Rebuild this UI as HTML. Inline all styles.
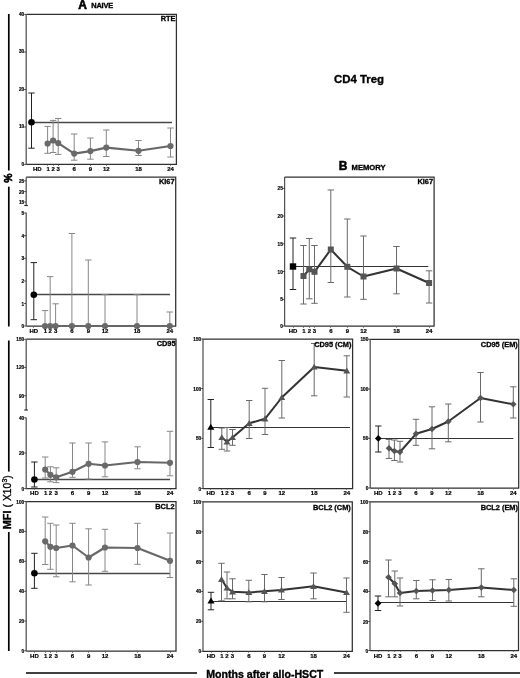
<!DOCTYPE html><html><head><meta charset="utf-8"><style>html,body{margin:0;padding:0;background:#fff;}svg{display:block}.tk{font-weight:bold;stroke:#000;stroke-width:0.2}.ti{font-weight:bold;stroke:#000;stroke-width:0.3}.hd{font-weight:bold;stroke:#000;stroke-width:0.35}</style></head><body><svg width="520" height="678" viewBox="0 0 520 678" font-family='"Liberation Sans", Arial, sans-serif' fill="#000">
<rect width="520" height="678" fill="#fff"/>
<path d="M26.2,14.4 H176.4 V164.3 H26.2" fill="none" stroke="#303030" stroke-width="1.25"/>
<line x1="26.2" y1="14.4" x2="26.2" y2="164.3" stroke="#505050" stroke-width="1.25"/>
<line x1="24.2" y1="14.4" x2="26" y2="14.4" stroke="#303030" stroke-width="0.9"/>
<text class="tk" transform="translate(24.2,15.700000000000001) scale(0.85,1)" text-anchor="end" font-size="5.6">40</text>
<line x1="24.2" y1="52" x2="26" y2="52" stroke="#303030" stroke-width="0.9"/>
<text class="tk" transform="translate(24.2,53.3) scale(0.85,1)" text-anchor="end" font-size="5.6">30</text>
<line x1="24.2" y1="89.5" x2="26" y2="89.5" stroke="#303030" stroke-width="0.9"/>
<text class="tk" transform="translate(24.2,90.8) scale(0.85,1)" text-anchor="end" font-size="5.6">20</text>
<line x1="24.2" y1="127" x2="26" y2="127" stroke="#303030" stroke-width="0.9"/>
<text class="tk" transform="translate(24.2,128.3) scale(0.85,1)" text-anchor="end" font-size="5.6">10</text>
<line x1="24.2" y1="164.4" x2="26" y2="164.4" stroke="#303030" stroke-width="0.9"/>
<text class="tk" transform="translate(24.2,165.70000000000002) scale(0.85,1)" text-anchor="end" font-size="5.6">0</text>
<line x1="31.5" y1="122.5" x2="172" y2="122.5" stroke="#484848" stroke-width="1.3"/>
<path d="M47.6,126.4 V153.3 M44.4,126.4 h6.4 M44.4,153.3 h6.4" stroke="#878787" stroke-width="1.0" fill="none"/>
<path d="M53.1,120.4 V152.5 M49.9,120.4 h6.4 M49.9,152.5 h6.4" stroke="#878787" stroke-width="1.0" fill="none"/>
<path d="M58.2,118.5 V154.4 M55.0,118.5 h6.4 M55.0,154.4 h6.4" stroke="#878787" stroke-width="1.0" fill="none"/>
<path d="M74.2,134 V160.2 M71.0,134 h6.4 M71.0,160.2 h6.4" stroke="#878787" stroke-width="1.0" fill="none"/>
<path d="M90.4,138 V159.2 M87.2,138 h6.4 M87.2,159.2 h6.4" stroke="#878787" stroke-width="1.0" fill="none"/>
<path d="M106.3,130 V156.5 M103.1,130 h6.4 M103.1,156.5 h6.4" stroke="#878787" stroke-width="1.0" fill="none"/>
<path d="M138.5,140.5 V155.5 M135.3,140.5 h6.4 M135.3,155.5 h6.4" stroke="#878787" stroke-width="1.0" fill="none"/>
<path d="M170.5,128 V157 M167.3,128 h6.4 M167.3,157 h6.4" stroke="#878787" stroke-width="1.0" fill="none"/>
<path d="M31.5,93 V148.2 M28.3,93 h6.4 M28.3,148.2 h6.4" stroke="#222" stroke-width="1.0" fill="none"/>
<path d="M47.6,143.5 L53.1,140.5 L58.2,143.1 L74.2,153.6 L90.4,151.1 L106.3,147.6 L138.5,150.8 L170.5,146" stroke="#676767" stroke-width="2.1" fill="none" stroke-linejoin="round"/>
<circle cx="47.6" cy="143.5" r="3.1" fill="#6a6a6a"/>
<circle cx="53.1" cy="140.5" r="3.1" fill="#6a6a6a"/>
<circle cx="58.2" cy="143.1" r="3.1" fill="#6a6a6a"/>
<circle cx="74.2" cy="153.6" r="3.1" fill="#6a6a6a"/>
<circle cx="90.4" cy="151.1" r="3.1" fill="#6a6a6a"/>
<circle cx="106.3" cy="147.6" r="3.1" fill="#6a6a6a"/>
<circle cx="138.5" cy="150.8" r="3.1" fill="#6a6a6a"/>
<circle cx="170.5" cy="146" r="3.1" fill="#6a6a6a"/>
<circle cx="31.5" cy="122.3" r="3.3" fill="#000"/>
<text class="tk" transform="translate(37.3,170.6) scale(1.0,1)" text-anchor="middle" font-size="6.0">HD</text>
<line x1="47.5" y1="164.5" x2="47.5" y2="166.0" stroke="#555" stroke-width="0.7"/>
<text class="tk" transform="translate(48.1,170.6) scale(1.0,1)" text-anchor="middle" font-size="6.0">1</text>
<line x1="53.5" y1="164.5" x2="53.5" y2="166.0" stroke="#555" stroke-width="0.7"/>
<text class="tk" transform="translate(53.1,170.6) scale(1.0,1)" text-anchor="middle" font-size="6.0">2</text>
<line x1="58.5" y1="164.5" x2="58.5" y2="166.0" stroke="#555" stroke-width="0.7"/>
<text class="tk" transform="translate(58.2,170.6) scale(1.0,1)" text-anchor="middle" font-size="6.0">3</text>
<line x1="74.5" y1="164.5" x2="74.5" y2="166.0" stroke="#555" stroke-width="0.7"/>
<text class="tk" transform="translate(74.2,170.6) scale(1.0,1)" text-anchor="middle" font-size="6.0">6</text>
<line x1="90.5" y1="164.5" x2="90.5" y2="166.0" stroke="#555" stroke-width="0.7"/>
<text class="tk" transform="translate(90.4,170.6) scale(1.0,1)" text-anchor="middle" font-size="6.0">9</text>
<line x1="106.5" y1="164.5" x2="106.5" y2="166.0" stroke="#555" stroke-width="0.7"/>
<text class="tk" transform="translate(106.3,170.6) scale(1.0,1)" text-anchor="middle" font-size="6.0">12</text>
<line x1="138.5" y1="164.5" x2="138.5" y2="166.0" stroke="#555" stroke-width="0.7"/>
<text class="tk" transform="translate(138.5,170.6) scale(1.0,1)" text-anchor="middle" font-size="6.0">18</text>
<line x1="170.5" y1="164.5" x2="170.5" y2="166.0" stroke="#555" stroke-width="0.7"/>
<text class="tk" transform="translate(170.5,170.6) scale(1.0,1)" text-anchor="middle" font-size="6.0">24</text>
<text class="ti" x="175.5" y="21" text-anchor="end" font-size="7.4">RTE</text>
<path d="M26.2,177.2 H175.7 V326 H26.2" fill="none" stroke="#303030" stroke-width="1.25"/>
<line x1="26.2" y1="177.2" x2="26.2" y2="205.5" stroke="#505050" stroke-width="1.25"/>
<line x1="26.2" y1="212.5" x2="26.2" y2="326" stroke="#505050" stroke-width="1.25"/>
<line x1="24.3" y1="205.5" x2="27.9" y2="205.5" stroke="#303030" stroke-width="1.2"/>
<line x1="24.2" y1="180.8" x2="26" y2="180.8" stroke="#303030" stroke-width="0.9"/>
<text class="tk" transform="translate(24.2,182.8) scale(0.85,1)" text-anchor="end" font-size="5.6">25</text>
<line x1="24.2" y1="191.6" x2="26" y2="191.6" stroke="#303030" stroke-width="0.9"/>
<text class="tk" transform="translate(24.2,193.6) scale(0.85,1)" text-anchor="end" font-size="5.6">20</text>
<line x1="24.2" y1="202" x2="26" y2="202" stroke="#303030" stroke-width="0.9"/>
<text class="tk" transform="translate(24.2,204.0) scale(0.85,1)" text-anchor="end" font-size="5.6">15</text>
<line x1="24.2" y1="213" x2="26" y2="213" stroke="#303030" stroke-width="0.9"/>
<text class="tk" transform="translate(24.2,215.0) scale(0.85,1)" text-anchor="end" font-size="5.6">5</text>
<line x1="24.2" y1="235.5" x2="26" y2="235.5" stroke="#303030" stroke-width="0.9"/>
<text class="tk" transform="translate(24.2,237.5) scale(0.85,1)" text-anchor="end" font-size="5.6">4</text>
<line x1="24.2" y1="258.3" x2="26" y2="258.3" stroke="#303030" stroke-width="0.9"/>
<text class="tk" transform="translate(24.2,260.3) scale(0.85,1)" text-anchor="end" font-size="5.6">3</text>
<line x1="24.2" y1="281" x2="26" y2="281" stroke="#303030" stroke-width="0.9"/>
<text class="tk" transform="translate(24.2,283.0) scale(0.85,1)" text-anchor="end" font-size="5.6">2</text>
<line x1="24.2" y1="303.5" x2="26" y2="303.5" stroke="#303030" stroke-width="0.9"/>
<text class="tk" transform="translate(24.2,305.5) scale(0.85,1)" text-anchor="end" font-size="5.6">1</text>
<line x1="24.2" y1="326" x2="26" y2="326" stroke="#303030" stroke-width="0.9"/>
<text class="tk" transform="translate(24.2,328.0) scale(0.85,1)" text-anchor="end" font-size="5.6">0</text>
<line x1="33.8" y1="294.5" x2="170" y2="294.5" stroke="#484848" stroke-width="1.3"/>
<path d="M45,310.6 V326 M41.8,310.6 h6.4 M41.8,326 h6.4" stroke="#878787" stroke-width="1.0" fill="none"/>
<path d="M50.2,276.6 V326 M47.0,276.6 h6.4 M47.0,326 h6.4" stroke="#878787" stroke-width="1.0" fill="none"/>
<path d="M55.6,303.8 V326 M52.4,303.8 h6.4 M52.4,326 h6.4" stroke="#878787" stroke-width="1.0" fill="none"/>
<path d="M71.9,233.5 V326 M68.7,233.5 h6.4 M68.7,326 h6.4" stroke="#878787" stroke-width="1.0" fill="none"/>
<path d="M88.3,260 V326 M85.1,260 h6.4 M85.1,326 h6.4" stroke="#878787" stroke-width="1.0" fill="none"/>
<path d="M105,294.7 V326 M101.8,294.7 h6.4 M101.8,326 h6.4" stroke="#878787" stroke-width="1.0" fill="none"/>
<path d="M137,294.7 V326 M133.8,294.7 h6.4 M133.8,326 h6.4" stroke="#878787" stroke-width="1.0" fill="none"/>
<path d="M169.8,312 V326 M166.60000000000002,312 h6.4 M166.60000000000002,326 h6.4" stroke="#878787" stroke-width="1.0" fill="none"/>
<path d="M33.8,262.6 V319.7 M30.599999999999998,262.6 h6.4 M30.599999999999998,319.7 h6.4" stroke="#222" stroke-width="1.0" fill="none"/>
<path d="M45,326 L50.2,326 L55.6,326 L71.9,326 L88.3,326 L105,326 L137,326 L169.8,326" stroke="#676767" stroke-width="2.1" fill="none" stroke-linejoin="round"/>
<circle cx="45" cy="326" r="3.1" fill="#6a6a6a"/>
<circle cx="50.2" cy="326" r="3.1" fill="#6a6a6a"/>
<circle cx="55.6" cy="326" r="3.1" fill="#6a6a6a"/>
<circle cx="71.9" cy="326" r="3.1" fill="#6a6a6a"/>
<circle cx="88.3" cy="326" r="3.1" fill="#6a6a6a"/>
<circle cx="105" cy="326" r="3.1" fill="#6a6a6a"/>
<circle cx="137" cy="326" r="3.1" fill="#6a6a6a"/>
<circle cx="169.8" cy="326" r="3.1" fill="#6a6a6a"/>
<circle cx="33.8" cy="294.7" r="3.3" fill="#000"/>
<line x1="33.5" y1="326.5" x2="33.5" y2="328.0" stroke="#555" stroke-width="0.7"/>
<text class="tk" transform="translate(33.8,332.59999999999997) scale(1.0,1)" text-anchor="middle" font-size="6.0">HD</text>
<line x1="45.5" y1="326.5" x2="45.5" y2="328.0" stroke="#555" stroke-width="0.7"/>
<text class="tk" transform="translate(45.5,332.59999999999997) scale(1.0,1)" text-anchor="middle" font-size="6.0">1</text>
<line x1="50.5" y1="326.5" x2="50.5" y2="328.0" stroke="#555" stroke-width="0.7"/>
<text class="tk" transform="translate(50.2,332.59999999999997) scale(1.0,1)" text-anchor="middle" font-size="6.0">2</text>
<line x1="55.5" y1="326.5" x2="55.5" y2="328.0" stroke="#555" stroke-width="0.7"/>
<text class="tk" transform="translate(55.6,332.59999999999997) scale(1.0,1)" text-anchor="middle" font-size="6.0">3</text>
<line x1="71.5" y1="326.5" x2="71.5" y2="328.0" stroke="#555" stroke-width="0.7"/>
<text class="tk" transform="translate(71.9,332.59999999999997) scale(1.0,1)" text-anchor="middle" font-size="6.0">6</text>
<line x1="88.5" y1="326.5" x2="88.5" y2="328.0" stroke="#555" stroke-width="0.7"/>
<text class="tk" transform="translate(88.3,332.59999999999997) scale(1.0,1)" text-anchor="middle" font-size="6.0">9</text>
<line x1="105.5" y1="326.5" x2="105.5" y2="328.0" stroke="#555" stroke-width="0.7"/>
<text class="tk" transform="translate(105,332.59999999999997) scale(1.0,1)" text-anchor="middle" font-size="6.0">12</text>
<line x1="137.5" y1="326.5" x2="137.5" y2="328.0" stroke="#555" stroke-width="0.7"/>
<text class="tk" transform="translate(137,332.59999999999997) scale(1.0,1)" text-anchor="middle" font-size="6.0">18</text>
<line x1="169.5" y1="326.5" x2="169.5" y2="328.0" stroke="#555" stroke-width="0.7"/>
<text class="tk" transform="translate(169.8,332.59999999999997) scale(1.0,1)" text-anchor="middle" font-size="6.0">24</text>
<text class="ti" x="174.5" y="184" text-anchor="end" font-size="7.4">Ki67</text>
<path d="M284.6,177 H434.1 V326 H284.6" fill="none" stroke="#303030" stroke-width="1.25"/>
<line x1="284.6" y1="177" x2="284.6" y2="326" stroke="#505050" stroke-width="1.25"/>
<line x1="282.8" y1="188.3" x2="284.6" y2="188.3" stroke="#303030" stroke-width="0.9"/>
<text class="tk" transform="translate(282.8,190.3) scale(0.85,1)" text-anchor="end" font-size="5.6">25</text>
<line x1="282.8" y1="216" x2="284.6" y2="216" stroke="#303030" stroke-width="0.9"/>
<text class="tk" transform="translate(282.8,218.0) scale(0.85,1)" text-anchor="end" font-size="5.6">20</text>
<line x1="282.8" y1="243.8" x2="284.6" y2="243.8" stroke="#303030" stroke-width="0.9"/>
<text class="tk" transform="translate(282.8,245.8) scale(0.85,1)" text-anchor="end" font-size="5.6">15</text>
<line x1="282.8" y1="271.5" x2="284.6" y2="271.5" stroke="#303030" stroke-width="0.9"/>
<text class="tk" transform="translate(282.8,273.5) scale(0.85,1)" text-anchor="end" font-size="5.6">10</text>
<line x1="282.8" y1="299.3" x2="284.6" y2="299.3" stroke="#303030" stroke-width="0.9"/>
<text class="tk" transform="translate(282.8,301.3) scale(0.85,1)" text-anchor="end" font-size="5.6">5</text>
<line x1="282.8" y1="326" x2="284.6" y2="326" stroke="#303030" stroke-width="0.9"/>
<text class="tk" transform="translate(282.8,328.0) scale(0.85,1)" text-anchor="end" font-size="5.6">0</text>
<line x1="293" y1="266.5" x2="428.3" y2="266.5" stroke="#333" stroke-width="1.2"/>
<path d="M303.5,245.5 V304 M300.3,245.5 h6.4 M300.3,304 h6.4" stroke="#6a6a6a" stroke-width="1.0" fill="none"/>
<path d="M309.3,238.5 V298.8 M306.1,238.5 h6.4 M306.1,298.8 h6.4" stroke="#6a6a6a" stroke-width="1.0" fill="none"/>
<path d="M314.5,245.5 V303.3 M311.3,245.5 h6.4 M311.3,303.3 h6.4" stroke="#6a6a6a" stroke-width="1.0" fill="none"/>
<path d="M330.8,190 V282.5 M327.6,190 h6.4 M327.6,282.5 h6.4" stroke="#6a6a6a" stroke-width="1.0" fill="none"/>
<path d="M347.3,219 V297 M344.1,219 h6.4 M344.1,297 h6.4" stroke="#6a6a6a" stroke-width="1.0" fill="none"/>
<path d="M363.5,236 V299.3 M360.3,236 h6.4 M360.3,299.3 h6.4" stroke="#6a6a6a" stroke-width="1.0" fill="none"/>
<path d="M396.5,246.5 V293.8 M393.3,246.5 h6.4 M393.3,293.8 h6.4" stroke="#6a6a6a" stroke-width="1.0" fill="none"/>
<path d="M429.1,270.8 V303 M425.90000000000003,270.8 h6.4 M425.90000000000003,303 h6.4" stroke="#6a6a6a" stroke-width="1.0" fill="none"/>
<path d="M293,238 V289.5 M289.8,238 h6.4 M289.8,289.5 h6.4" stroke="#222" stroke-width="1.0" fill="none"/>
<path d="M303.5,276 L309.3,269.3 L314.5,271.8 L330.8,249.5 L347.3,266.8 L363.5,276.5 L396.5,268.5 L429.1,283" stroke="#333" stroke-width="2.0" fill="none" stroke-linejoin="round"/>
<rect x="300.5" y="273.0" width="6.0" height="6.0" fill="#555"/>
<rect x="306.3" y="266.3" width="6.0" height="6.0" fill="#555"/>
<rect x="311.5" y="268.8" width="6.0" height="6.0" fill="#555"/>
<rect x="327.8" y="246.5" width="6.0" height="6.0" fill="#555"/>
<rect x="344.3" y="263.8" width="6.0" height="6.0" fill="#555"/>
<rect x="360.5" y="273.5" width="6.0" height="6.0" fill="#555"/>
<rect x="393.5" y="265.5" width="6.0" height="6.0" fill="#555"/>
<rect x="426.1" y="280.0" width="6.0" height="6.0" fill="#555"/>
<rect x="289.8" y="263.3" width="6.4" height="6.4" fill="#000"/>
<line x1="293.5" y1="326.5" x2="293.5" y2="328.0" stroke="#555" stroke-width="0.7"/>
<text class="tk" transform="translate(293,332.5) scale(1.0,1)" text-anchor="middle" font-size="6.0">HD</text>
<line x1="303.5" y1="326.5" x2="303.5" y2="328.0" stroke="#555" stroke-width="0.7"/>
<text class="tk" transform="translate(304.0,332.5) scale(1.0,1)" text-anchor="middle" font-size="6.0">1</text>
<line x1="309.5" y1="326.5" x2="309.5" y2="328.0" stroke="#555" stroke-width="0.7"/>
<text class="tk" transform="translate(309.3,332.5) scale(1.0,1)" text-anchor="middle" font-size="6.0">2</text>
<line x1="314.5" y1="326.5" x2="314.5" y2="328.0" stroke="#555" stroke-width="0.7"/>
<text class="tk" transform="translate(314.5,332.5) scale(1.0,1)" text-anchor="middle" font-size="6.0">3</text>
<line x1="330.5" y1="326.5" x2="330.5" y2="328.0" stroke="#555" stroke-width="0.7"/>
<text class="tk" transform="translate(330.8,332.5) scale(1.0,1)" text-anchor="middle" font-size="6.0">6</text>
<line x1="347.5" y1="326.5" x2="347.5" y2="328.0" stroke="#555" stroke-width="0.7"/>
<text class="tk" transform="translate(347.3,332.5) scale(1.0,1)" text-anchor="middle" font-size="6.0">9</text>
<line x1="363.5" y1="326.5" x2="363.5" y2="328.0" stroke="#555" stroke-width="0.7"/>
<text class="tk" transform="translate(363.5,332.5) scale(1.0,1)" text-anchor="middle" font-size="6.0">12</text>
<line x1="396.5" y1="326.5" x2="396.5" y2="328.0" stroke="#555" stroke-width="0.7"/>
<text class="tk" transform="translate(396.5,332.5) scale(1.0,1)" text-anchor="middle" font-size="6.0">18</text>
<line x1="429.5" y1="326.5" x2="429.5" y2="328.0" stroke="#555" stroke-width="0.7"/>
<text class="tk" transform="translate(429.1,332.5) scale(1.0,1)" text-anchor="middle" font-size="6.0">24</text>
<text class="ti" x="433" y="184" text-anchor="end" font-size="7.4">Ki67</text>
<path d="M26.2,339.2 H176.0 V488.5 H26.2" fill="none" stroke="#303030" stroke-width="1.25"/>
<line x1="26.2" y1="339.2" x2="26.2" y2="410" stroke="#505050" stroke-width="1.25"/>
<line x1="26.2" y1="417.5" x2="26.2" y2="488.5" stroke="#505050" stroke-width="1.25"/>
<line x1="24.3" y1="410" x2="27.9" y2="410" stroke="#303030" stroke-width="1.2"/>
<line x1="24.2" y1="339.3" x2="26" y2="339.3" stroke="#303030" stroke-width="0.9"/>
<text class="tk" transform="translate(24.2,341.3) scale(0.85,1)" text-anchor="end" font-size="5.6">150</text>
<line x1="24.2" y1="367.4" x2="26" y2="367.4" stroke="#303030" stroke-width="0.9"/>
<text class="tk" transform="translate(24.2,369.4) scale(0.85,1)" text-anchor="end" font-size="5.6">120</text>
<line x1="24.2" y1="395.7" x2="26" y2="395.7" stroke="#303030" stroke-width="0.9"/>
<text class="tk" transform="translate(24.2,397.7) scale(0.85,1)" text-anchor="end" font-size="5.6">90</text>
<line x1="24.2" y1="417.8" x2="26" y2="417.8" stroke="#303030" stroke-width="0.9"/>
<text class="tk" transform="translate(24.2,419.8) scale(0.85,1)" text-anchor="end" font-size="5.6">40</text>
<line x1="24.2" y1="453" x2="26" y2="453" stroke="#303030" stroke-width="0.9"/>
<text class="tk" transform="translate(24.2,455.0) scale(0.85,1)" text-anchor="end" font-size="5.6">20</text>
<line x1="24.2" y1="488.6" x2="26" y2="488.6" stroke="#303030" stroke-width="0.9"/>
<text class="tk" transform="translate(24.2,490.6) scale(0.85,1)" text-anchor="end" font-size="5.6">0</text>
<line x1="34.4" y1="479.5" x2="170" y2="479.5" stroke="#484848" stroke-width="1.3"/>
<path d="M45.2,457 V478 M42.0,457 h6.4 M42.0,478 h6.4" stroke="#878787" stroke-width="1.0" fill="none"/>
<path d="M50.4,466.8 V481.8 M47.199999999999996,466.8 h6.4 M47.199999999999996,481.8 h6.4" stroke="#878787" stroke-width="1.0" fill="none"/>
<path d="M56.2,467.8 V482.6 M53.0,467.8 h6.4 M53.0,482.6 h6.4" stroke="#878787" stroke-width="1.0" fill="none"/>
<path d="M72.5,443 V477.3 M69.3,443 h6.4 M69.3,477.3 h6.4" stroke="#878787" stroke-width="1.0" fill="none"/>
<path d="M88.6,443 V479 M85.39999999999999,443 h6.4 M85.39999999999999,479 h6.4" stroke="#878787" stroke-width="1.0" fill="none"/>
<path d="M105,441.9 V476.8 M101.8,441.9 h6.4 M101.8,476.8 h6.4" stroke="#878787" stroke-width="1.0" fill="none"/>
<path d="M137.5,446.8 V468.8 M134.3,446.8 h6.4 M134.3,468.8 h6.4" stroke="#878787" stroke-width="1.0" fill="none"/>
<path d="M170,431.3 V475.8 M166.8,431.3 h6.4 M166.8,475.8 h6.4" stroke="#878787" stroke-width="1.0" fill="none"/>
<path d="M34.4,462 V487 M31.2,462 h6.4 M31.2,487 h6.4" stroke="#222" stroke-width="1.0" fill="none"/>
<path d="M45.2,469.5 L50.4,474.8 L56.2,477.3 L72.5,471.8 L88.6,463.8 L105,465.5 L137.5,462 L170,462.8" stroke="#676767" stroke-width="2.1" fill="none" stroke-linejoin="round"/>
<circle cx="45.2" cy="469.5" r="3.1" fill="#6a6a6a"/>
<circle cx="50.4" cy="474.8" r="3.1" fill="#6a6a6a"/>
<circle cx="56.2" cy="477.3" r="3.1" fill="#6a6a6a"/>
<circle cx="72.5" cy="471.8" r="3.1" fill="#6a6a6a"/>
<circle cx="88.6" cy="463.8" r="3.1" fill="#6a6a6a"/>
<circle cx="105" cy="465.5" r="3.1" fill="#6a6a6a"/>
<circle cx="137.5" cy="462" r="3.1" fill="#6a6a6a"/>
<circle cx="170" cy="462.8" r="3.1" fill="#6a6a6a"/>
<circle cx="34.4" cy="479.5" r="3.3" fill="#000"/>
<line x1="34.5" y1="488.5" x2="34.5" y2="490.0" stroke="#555" stroke-width="0.7"/>
<text class="tk" transform="translate(34.4,494.7) scale(1.0,1)" text-anchor="middle" font-size="6.0">HD</text>
<line x1="45.5" y1="488.5" x2="45.5" y2="490.0" stroke="#555" stroke-width="0.7"/>
<text class="tk" transform="translate(45.7,494.7) scale(1.0,1)" text-anchor="middle" font-size="6.0">1</text>
<line x1="50.5" y1="488.5" x2="50.5" y2="490.0" stroke="#555" stroke-width="0.7"/>
<text class="tk" transform="translate(50.4,494.7) scale(1.0,1)" text-anchor="middle" font-size="6.0">2</text>
<line x1="56.5" y1="488.5" x2="56.5" y2="490.0" stroke="#555" stroke-width="0.7"/>
<text class="tk" transform="translate(56.2,494.7) scale(1.0,1)" text-anchor="middle" font-size="6.0">3</text>
<line x1="72.5" y1="488.5" x2="72.5" y2="490.0" stroke="#555" stroke-width="0.7"/>
<text class="tk" transform="translate(72.5,494.7) scale(1.0,1)" text-anchor="middle" font-size="6.0">6</text>
<line x1="88.5" y1="488.5" x2="88.5" y2="490.0" stroke="#555" stroke-width="0.7"/>
<text class="tk" transform="translate(88.6,494.7) scale(1.0,1)" text-anchor="middle" font-size="6.0">9</text>
<line x1="105.5" y1="488.5" x2="105.5" y2="490.0" stroke="#555" stroke-width="0.7"/>
<text class="tk" transform="translate(105,494.7) scale(1.0,1)" text-anchor="middle" font-size="6.0">12</text>
<line x1="137.5" y1="488.5" x2="137.5" y2="490.0" stroke="#555" stroke-width="0.7"/>
<text class="tk" transform="translate(137.5,494.7) scale(1.0,1)" text-anchor="middle" font-size="6.0">18</text>
<line x1="170.5" y1="488.5" x2="170.5" y2="490.0" stroke="#555" stroke-width="0.7"/>
<text class="tk" transform="translate(170,494.7) scale(1.0,1)" text-anchor="middle" font-size="6.0">24</text>
<text class="ti" x="175.6" y="345.7" text-anchor="end" font-size="7.4">CD95</text>
<path d="M203,339 H352.6 V488.5 H203" fill="none" stroke="#303030" stroke-width="1.25"/>
<line x1="203" y1="339" x2="203" y2="488.5" stroke="#505050" stroke-width="1.25"/>
<line x1="201.2" y1="339" x2="203" y2="339" stroke="#303030" stroke-width="0.9"/>
<text class="tk" transform="translate(201.2,341.0) scale(0.85,1)" text-anchor="end" font-size="5.6">150</text>
<line x1="201.2" y1="388.5" x2="203" y2="388.5" stroke="#303030" stroke-width="0.9"/>
<text class="tk" transform="translate(201.2,390.5) scale(0.85,1)" text-anchor="end" font-size="5.6">100</text>
<line x1="201.2" y1="438.3" x2="203" y2="438.3" stroke="#303030" stroke-width="0.9"/>
<text class="tk" transform="translate(201.2,440.3) scale(0.85,1)" text-anchor="end" font-size="5.6">50</text>
<line x1="201.2" y1="488.5" x2="203" y2="488.5" stroke="#303030" stroke-width="0.9"/>
<text class="tk" transform="translate(201.2,490.5) scale(0.85,1)" text-anchor="end" font-size="5.6">0</text>
<line x1="210.8" y1="427.5" x2="350" y2="427.5" stroke="#333" stroke-width="1.2"/>
<path d="M221.8,428 V449.3 M218.60000000000002,428 h6.4 M218.60000000000002,449.3 h6.4" stroke="#6a6a6a" stroke-width="1.0" fill="none"/>
<path d="M227,427.5 V451 M223.8,427.5 h6.4 M223.8,451 h6.4" stroke="#6a6a6a" stroke-width="1.0" fill="none"/>
<path d="M232.5,429.5 V445.3 M229.3,429.5 h6.4 M229.3,445.3 h6.4" stroke="#6a6a6a" stroke-width="1.0" fill="none"/>
<path d="M249.2,400.5 V438.5 M246.0,400.5 h6.4 M246.0,438.5 h6.4" stroke="#6a6a6a" stroke-width="1.0" fill="none"/>
<path d="M265,388.3 V434.5 M261.8,388.3 h6.4 M261.8,434.5 h6.4" stroke="#6a6a6a" stroke-width="1.0" fill="none"/>
<path d="M281.8,360.5 V418 M278.6,360.5 h6.4 M278.6,418 h6.4" stroke="#6a6a6a" stroke-width="1.0" fill="none"/>
<path d="M314.2,343.5 V395.8 M311.0,343.5 h6.4 M311.0,395.8 h6.4" stroke="#6a6a6a" stroke-width="1.0" fill="none"/>
<path d="M346.8,355.8 V397 M343.6,355.8 h6.4 M343.6,397 h6.4" stroke="#6a6a6a" stroke-width="1.0" fill="none"/>
<path d="M210.8,399.5 V447.5 M207.60000000000002,399.5 h6.4 M207.60000000000002,447.5 h6.4" stroke="#222" stroke-width="1.0" fill="none"/>
<path d="M221.8,437.5 L227,441.8 L232.5,437.5 L249.2,423.3 L265,418.8 L281.8,397.5 L314.2,367 L346.8,370.8" stroke="#333" stroke-width="2.0" fill="none" stroke-linejoin="round"/>
<path d="M221.8,434.32 L225.27,440.10 L218.34,440.10 Z" fill="#555"/>
<path d="M227,438.62 L230.47,444.40 L223.53,444.40 Z" fill="#555"/>
<path d="M232.5,434.32 L235.97,440.10 L229.03,440.10 Z" fill="#555"/>
<path d="M249.2,420.12 L252.66,425.90 L245.73,425.90 Z" fill="#555"/>
<path d="M265,415.62 L268.46,421.40 L261.54,421.40 Z" fill="#555"/>
<path d="M281.8,394.32 L285.26,400.10 L278.34,400.10 Z" fill="#555"/>
<path d="M314.2,363.82 L317.66,369.60 L310.74,369.60 Z" fill="#555"/>
<path d="M346.8,367.62 L350.26,373.40 L343.34,373.40 Z" fill="#555"/>
<path d="M210.8,423.73 L214.37,429.68 L207.23,429.68 Z" fill="#000"/>
<line x1="210.5" y1="488.5" x2="210.5" y2="490.0" stroke="#555" stroke-width="0.7"/>
<text class="tk" transform="translate(210.8,494.7) scale(1.0,1)" text-anchor="middle" font-size="6.0">HD</text>
<line x1="221.5" y1="488.5" x2="221.5" y2="490.0" stroke="#555" stroke-width="0.7"/>
<text class="tk" transform="translate(222.3,494.7) scale(1.0,1)" text-anchor="middle" font-size="6.0">1</text>
<line x1="227.5" y1="488.5" x2="227.5" y2="490.0" stroke="#555" stroke-width="0.7"/>
<text class="tk" transform="translate(227,494.7) scale(1.0,1)" text-anchor="middle" font-size="6.0">2</text>
<line x1="232.5" y1="488.5" x2="232.5" y2="490.0" stroke="#555" stroke-width="0.7"/>
<text class="tk" transform="translate(232.5,494.7) scale(1.0,1)" text-anchor="middle" font-size="6.0">3</text>
<line x1="249.5" y1="488.5" x2="249.5" y2="490.0" stroke="#555" stroke-width="0.7"/>
<text class="tk" transform="translate(249.2,494.7) scale(1.0,1)" text-anchor="middle" font-size="6.0">6</text>
<line x1="265.5" y1="488.5" x2="265.5" y2="490.0" stroke="#555" stroke-width="0.7"/>
<text class="tk" transform="translate(265,494.7) scale(1.0,1)" text-anchor="middle" font-size="6.0">9</text>
<line x1="281.5" y1="488.5" x2="281.5" y2="490.0" stroke="#555" stroke-width="0.7"/>
<text class="tk" transform="translate(281.8,494.7) scale(1.0,1)" text-anchor="middle" font-size="6.0">12</text>
<line x1="314.5" y1="488.5" x2="314.5" y2="490.0" stroke="#555" stroke-width="0.7"/>
<text class="tk" transform="translate(314.2,494.7) scale(1.0,1)" text-anchor="middle" font-size="6.0">18</text>
<line x1="346.5" y1="488.5" x2="346.5" y2="490.0" stroke="#555" stroke-width="0.7"/>
<text class="tk" transform="translate(346.8,494.7) scale(1.0,1)" text-anchor="middle" font-size="6.0">24</text>
<text class="ti" x="351.5" y="346.5" text-anchor="end" font-size="7.4">CD95 (CM)</text>
<path d="M370.2,339.3 H518.7 V488 H370.2" fill="none" stroke="#303030" stroke-width="1.25"/>
<line x1="370.2" y1="339.3" x2="370.2" y2="488" stroke="#505050" stroke-width="1.25"/>
<line x1="368.4" y1="339.3" x2="370.2" y2="339.3" stroke="#303030" stroke-width="0.9"/>
<text class="tk" transform="translate(368.4,341.3) scale(0.85,1)" text-anchor="end" font-size="5.6">150</text>
<line x1="368.4" y1="389" x2="370.2" y2="389" stroke="#303030" stroke-width="0.9"/>
<text class="tk" transform="translate(368.4,391.0) scale(0.85,1)" text-anchor="end" font-size="5.6">100</text>
<line x1="368.4" y1="438.3" x2="370.2" y2="438.3" stroke="#303030" stroke-width="0.9"/>
<text class="tk" transform="translate(368.4,440.3) scale(0.85,1)" text-anchor="end" font-size="5.6">50</text>
<line x1="368.4" y1="488" x2="370.2" y2="488" stroke="#303030" stroke-width="0.9"/>
<text class="tk" transform="translate(368.4,490.0) scale(0.85,1)" text-anchor="end" font-size="5.6">0</text>
<line x1="378.3" y1="438.5" x2="513.3" y2="438.5" stroke="#333" stroke-width="1.2"/>
<path d="M389,439.5 V458.4 M385.8,439.5 h6.4 M385.8,458.4 h6.4" stroke="#6a6a6a" stroke-width="1.0" fill="none"/>
<path d="M394.4,440 V460.5 M391.2,440 h6.4 M391.2,460.5 h6.4" stroke="#6a6a6a" stroke-width="1.0" fill="none"/>
<path d="M400,441.3 V462 M396.8,441.3 h6.4 M396.8,462 h6.4" stroke="#6a6a6a" stroke-width="1.0" fill="none"/>
<path d="M416,419.3 V445.3 M412.8,419.3 h6.4 M412.8,445.3 h6.4" stroke="#6a6a6a" stroke-width="1.0" fill="none"/>
<path d="M432,406.8 V448.8 M428.8,406.8 h6.4 M428.8,448.8 h6.4" stroke="#6a6a6a" stroke-width="1.0" fill="none"/>
<path d="M448.3,404 V441.8 M445.1,404 h6.4 M445.1,441.8 h6.4" stroke="#6a6a6a" stroke-width="1.0" fill="none"/>
<path d="M480.5,372.5 V422 M477.3,372.5 h6.4 M477.3,422 h6.4" stroke="#6a6a6a" stroke-width="1.0" fill="none"/>
<path d="M513.3,386.8 V418 M510.09999999999997,386.8 h6.4 M510.09999999999997,418 h6.4" stroke="#6a6a6a" stroke-width="1.0" fill="none"/>
<path d="M378.3,426 V452 M375.1,426 h6.4 M375.1,452 h6.4" stroke="#222" stroke-width="1.0" fill="none"/>
<path d="M389,448.3 L394.4,451 L400,452 L416,433.8 L432,429 L448.3,421.5 L480.5,398 L513.3,404.3" stroke="#333" stroke-width="2.0" fill="none" stroke-linejoin="round"/>
<path d="M389,445.0 L392.3,448.3 L389,451.6 L385.7,448.3 Z" fill="#555"/>
<path d="M394.4,447.7 L397.7,451 L394.4,454.3 L391.09999999999997,451 Z" fill="#555"/>
<path d="M400,448.7 L403.3,452 L400,455.3 L396.7,452 Z" fill="#555"/>
<path d="M416,430.5 L419.3,433.8 L416,437.1 L412.7,433.8 Z" fill="#555"/>
<path d="M432,425.7 L435.3,429 L432,432.3 L428.7,429 Z" fill="#555"/>
<path d="M448.3,418.2 L451.6,421.5 L448.3,424.8 L445.0,421.5 Z" fill="#555"/>
<path d="M480.5,394.7 L483.8,398 L480.5,401.3 L477.2,398 Z" fill="#555"/>
<path d="M513.3,401.0 L516.5999999999999,404.3 L513.3,407.6 L509.99999999999994,404.3 Z" fill="#555"/>
<path d="M378.3,435.0 L381.7,438.4 L378.3,441.79999999999995 L374.90000000000003,438.4 Z" fill="#000"/>
<line x1="378.5" y1="488.5" x2="378.5" y2="490.0" stroke="#555" stroke-width="0.7"/>
<text class="tk" transform="translate(378.3,494.7) scale(1.0,1)" text-anchor="middle" font-size="6.0">HD</text>
<line x1="389.5" y1="488.5" x2="389.5" y2="490.0" stroke="#555" stroke-width="0.7"/>
<text class="tk" transform="translate(389.5,494.7) scale(1.0,1)" text-anchor="middle" font-size="6.0">1</text>
<line x1="394.5" y1="488.5" x2="394.5" y2="490.0" stroke="#555" stroke-width="0.7"/>
<text class="tk" transform="translate(394.4,494.7) scale(1.0,1)" text-anchor="middle" font-size="6.0">2</text>
<line x1="400.5" y1="488.5" x2="400.5" y2="490.0" stroke="#555" stroke-width="0.7"/>
<text class="tk" transform="translate(400,494.7) scale(1.0,1)" text-anchor="middle" font-size="6.0">3</text>
<line x1="416.5" y1="488.5" x2="416.5" y2="490.0" stroke="#555" stroke-width="0.7"/>
<text class="tk" transform="translate(416,494.7) scale(1.0,1)" text-anchor="middle" font-size="6.0">6</text>
<line x1="432.5" y1="488.5" x2="432.5" y2="490.0" stroke="#555" stroke-width="0.7"/>
<text class="tk" transform="translate(432,494.7) scale(1.0,1)" text-anchor="middle" font-size="6.0">9</text>
<line x1="448.5" y1="488.5" x2="448.5" y2="490.0" stroke="#555" stroke-width="0.7"/>
<text class="tk" transform="translate(448.3,494.7) scale(1.0,1)" text-anchor="middle" font-size="6.0">12</text>
<line x1="480.5" y1="488.5" x2="480.5" y2="490.0" stroke="#555" stroke-width="0.7"/>
<text class="tk" transform="translate(480.5,494.7) scale(1.0,1)" text-anchor="middle" font-size="6.0">18</text>
<line x1="513.5" y1="488.5" x2="513.5" y2="490.0" stroke="#555" stroke-width="0.7"/>
<text class="tk" transform="translate(513.3,494.7) scale(1.0,1)" text-anchor="middle" font-size="6.0">24</text>
<text class="ti" x="517.8" y="346.5" text-anchor="end" font-size="7.4">CD95 (EM)</text>
<path d="M26.2,501.5 H176.0 V651 H26.2" fill="none" stroke="#303030" stroke-width="1.25"/>
<line x1="26.2" y1="501.5" x2="26.2" y2="651" stroke="#505050" stroke-width="1.25"/>
<line x1="24.2" y1="501.5" x2="26" y2="501.5" stroke="#303030" stroke-width="0.9"/>
<text class="tk" transform="translate(24.2,503.5) scale(0.85,1)" text-anchor="end" font-size="5.6">100</text>
<line x1="24.2" y1="531.4" x2="26" y2="531.4" stroke="#303030" stroke-width="0.9"/>
<text class="tk" transform="translate(24.2,533.4) scale(0.85,1)" text-anchor="end" font-size="5.6">80</text>
<line x1="24.2" y1="561.3" x2="26" y2="561.3" stroke="#303030" stroke-width="0.9"/>
<text class="tk" transform="translate(24.2,563.3) scale(0.85,1)" text-anchor="end" font-size="5.6">60</text>
<line x1="24.2" y1="591.3" x2="26" y2="591.3" stroke="#303030" stroke-width="0.9"/>
<text class="tk" transform="translate(24.2,593.3) scale(0.85,1)" text-anchor="end" font-size="5.6">40</text>
<line x1="24.2" y1="621" x2="26" y2="621" stroke="#303030" stroke-width="0.9"/>
<text class="tk" transform="translate(24.2,623.0) scale(0.85,1)" text-anchor="end" font-size="5.6">20</text>
<line x1="24.2" y1="650.8" x2="26" y2="650.8" stroke="#303030" stroke-width="0.9"/>
<text class="tk" transform="translate(24.2,652.8) scale(0.85,1)" text-anchor="end" font-size="5.6">0</text>
<line x1="34.4" y1="573.5" x2="170" y2="573.5" stroke="#484848" stroke-width="1.3"/>
<path d="M45.2,517 V564.5 M42.0,517 h6.4 M42.0,564.5 h6.4" stroke="#878787" stroke-width="1.0" fill="none"/>
<path d="M50.4,523.3 V569.3 M47.199999999999996,523.3 h6.4 M47.199999999999996,569.3 h6.4" stroke="#878787" stroke-width="1.0" fill="none"/>
<path d="M56.2,525 V576.8 M53.0,525 h6.4 M53.0,576.8 h6.4" stroke="#878787" stroke-width="1.0" fill="none"/>
<path d="M72.5,523.3 V581.8 M69.3,523.3 h6.4 M69.3,581.8 h6.4" stroke="#878787" stroke-width="1.0" fill="none"/>
<path d="M88.6,528.8 V585 M85.39999999999999,528.8 h6.4 M85.39999999999999,585 h6.4" stroke="#878787" stroke-width="1.0" fill="none"/>
<path d="M105,529.3 V571.3 M101.8,529.3 h6.4 M101.8,571.3 h6.4" stroke="#878787" stroke-width="1.0" fill="none"/>
<path d="M137.5,523.3 V564.3 M134.3,523.3 h6.4 M134.3,564.3 h6.4" stroke="#878787" stroke-width="1.0" fill="none"/>
<path d="M170,533 V577.5 M166.8,533 h6.4 M166.8,577.5 h6.4" stroke="#878787" stroke-width="1.0" fill="none"/>
<path d="M34.4,553.3 V588.3 M31.2,553.3 h6.4 M31.2,588.3 h6.4" stroke="#222" stroke-width="1.0" fill="none"/>
<path d="M45.2,541.3 L50.4,546.8 L56.2,548 L72.5,545.5 L88.6,557.5 L105,547.5 L137.5,548 L170,560.8" stroke="#676767" stroke-width="2.1" fill="none" stroke-linejoin="round"/>
<circle cx="45.2" cy="541.3" r="3.1" fill="#6a6a6a"/>
<circle cx="50.4" cy="546.8" r="3.1" fill="#6a6a6a"/>
<circle cx="56.2" cy="548" r="3.1" fill="#6a6a6a"/>
<circle cx="72.5" cy="545.5" r="3.1" fill="#6a6a6a"/>
<circle cx="88.6" cy="557.5" r="3.1" fill="#6a6a6a"/>
<circle cx="105" cy="547.5" r="3.1" fill="#6a6a6a"/>
<circle cx="137.5" cy="548" r="3.1" fill="#6a6a6a"/>
<circle cx="170" cy="560.8" r="3.1" fill="#6a6a6a"/>
<circle cx="34.4" cy="573.3" r="3.3" fill="#000"/>
<line x1="34.5" y1="651.5" x2="34.5" y2="653.0" stroke="#555" stroke-width="0.7"/>
<text class="tk" transform="translate(34.4,657.7) scale(1.0,1)" text-anchor="middle" font-size="6.0">HD</text>
<line x1="45.5" y1="651.5" x2="45.5" y2="653.0" stroke="#555" stroke-width="0.7"/>
<text class="tk" transform="translate(45.7,657.7) scale(1.0,1)" text-anchor="middle" font-size="6.0">1</text>
<line x1="50.5" y1="651.5" x2="50.5" y2="653.0" stroke="#555" stroke-width="0.7"/>
<text class="tk" transform="translate(50.4,657.7) scale(1.0,1)" text-anchor="middle" font-size="6.0">2</text>
<line x1="56.5" y1="651.5" x2="56.5" y2="653.0" stroke="#555" stroke-width="0.7"/>
<text class="tk" transform="translate(56.2,657.7) scale(1.0,1)" text-anchor="middle" font-size="6.0">3</text>
<line x1="72.5" y1="651.5" x2="72.5" y2="653.0" stroke="#555" stroke-width="0.7"/>
<text class="tk" transform="translate(72.5,657.7) scale(1.0,1)" text-anchor="middle" font-size="6.0">6</text>
<line x1="88.5" y1="651.5" x2="88.5" y2="653.0" stroke="#555" stroke-width="0.7"/>
<text class="tk" transform="translate(88.6,657.7) scale(1.0,1)" text-anchor="middle" font-size="6.0">9</text>
<line x1="105.5" y1="651.5" x2="105.5" y2="653.0" stroke="#555" stroke-width="0.7"/>
<text class="tk" transform="translate(105,657.7) scale(1.0,1)" text-anchor="middle" font-size="6.0">12</text>
<line x1="137.5" y1="651.5" x2="137.5" y2="653.0" stroke="#555" stroke-width="0.7"/>
<text class="tk" transform="translate(137.5,657.7) scale(1.0,1)" text-anchor="middle" font-size="6.0">18</text>
<line x1="170.5" y1="651.5" x2="170.5" y2="653.0" stroke="#555" stroke-width="0.7"/>
<text class="tk" transform="translate(170,657.7) scale(1.0,1)" text-anchor="middle" font-size="6.0">24</text>
<text class="ti" x="174.6" y="508.8" text-anchor="end" font-size="7.4">BCL2</text>
<path d="M203,501.8 H352.3 V651.3 H203" fill="none" stroke="#303030" stroke-width="1.25"/>
<line x1="203" y1="501.8" x2="203" y2="651.3" stroke="#505050" stroke-width="1.25"/>
<line x1="201.2" y1="501.8" x2="203" y2="501.8" stroke="#303030" stroke-width="0.9"/>
<text class="tk" transform="translate(201.2,503.8) scale(0.85,1)" text-anchor="end" font-size="5.6">100</text>
<line x1="201.2" y1="531.8" x2="203" y2="531.8" stroke="#303030" stroke-width="0.9"/>
<text class="tk" transform="translate(201.2,533.8) scale(0.85,1)" text-anchor="end" font-size="5.6">80</text>
<line x1="201.2" y1="561.6" x2="203" y2="561.6" stroke="#303030" stroke-width="0.9"/>
<text class="tk" transform="translate(201.2,563.6) scale(0.85,1)" text-anchor="end" font-size="5.6">60</text>
<line x1="201.2" y1="591.4" x2="203" y2="591.4" stroke="#303030" stroke-width="0.9"/>
<text class="tk" transform="translate(201.2,593.4) scale(0.85,1)" text-anchor="end" font-size="5.6">40</text>
<line x1="201.2" y1="621.3" x2="203" y2="621.3" stroke="#303030" stroke-width="0.9"/>
<text class="tk" transform="translate(201.2,623.3) scale(0.85,1)" text-anchor="end" font-size="5.6">20</text>
<line x1="201.2" y1="651.3" x2="203" y2="651.3" stroke="#303030" stroke-width="0.9"/>
<text class="tk" transform="translate(201.2,653.3) scale(0.85,1)" text-anchor="end" font-size="5.6">0</text>
<line x1="211" y1="601.5" x2="346.5" y2="601.5" stroke="#333" stroke-width="1.2"/>
<path d="M221.5,563.3 V600.8 M218.3,563.3 h6.4 M218.3,600.8 h6.4" stroke="#6a6a6a" stroke-width="1.0" fill="none"/>
<path d="M227,572 V598.8 M223.8,572 h6.4 M223.8,598.8 h6.4" stroke="#6a6a6a" stroke-width="1.0" fill="none"/>
<path d="M232.5,578.8 V598.8 M229.3,578.8 h6.4 M229.3,598.8 h6.4" stroke="#6a6a6a" stroke-width="1.0" fill="none"/>
<path d="M248.8,580.3 V601.8 M245.60000000000002,580.3 h6.4 M245.60000000000002,601.8 h6.4" stroke="#6a6a6a" stroke-width="1.0" fill="none"/>
<path d="M264.5,574.5 V601.8 M261.3,574.5 h6.4 M261.3,601.8 h6.4" stroke="#6a6a6a" stroke-width="1.0" fill="none"/>
<path d="M281.5,577.5 V599.5 M278.3,577.5 h6.4 M278.3,599.5 h6.4" stroke="#6a6a6a" stroke-width="1.0" fill="none"/>
<path d="M313.5,573 V598.8 M310.3,573 h6.4 M310.3,598.8 h6.4" stroke="#6a6a6a" stroke-width="1.0" fill="none"/>
<path d="M346.5,578 V612.3 M343.3,578 h6.4 M343.3,612.3 h6.4" stroke="#6a6a6a" stroke-width="1.0" fill="none"/>
<path d="M211,592.3 V609.8 M207.8,592.3 h6.4 M207.8,609.8 h6.4" stroke="#222" stroke-width="1.0" fill="none"/>
<path d="M221.5,579.3 L227,588 L232.5,591.8 L248.8,592.5 L264.5,591.3 L281.5,590 L313.5,586.3 L346.5,592.5" stroke="#333" stroke-width="2.0" fill="none" stroke-linejoin="round"/>
<path d="M221.5,576.12 L224.97,581.90 L218.03,581.90 Z" fill="#555"/>
<path d="M227,584.82 L230.47,590.60 L223.53,590.60 Z" fill="#555"/>
<path d="M232.5,588.62 L235.97,594.40 L229.03,594.40 Z" fill="#555"/>
<path d="M248.8,589.32 L252.27,595.10 L245.34,595.10 Z" fill="#555"/>
<path d="M264.5,588.12 L267.96,593.90 L261.04,593.90 Z" fill="#555"/>
<path d="M281.5,586.82 L284.96,592.60 L278.04,592.60 Z" fill="#555"/>
<path d="M313.5,583.12 L316.96,588.90 L310.04,588.90 Z" fill="#555"/>
<path d="M346.5,589.32 L349.96,595.10 L343.04,595.10 Z" fill="#555"/>
<path d="M211,597.53 L214.57,603.48 L207.43,603.48 Z" fill="#000"/>
<line x1="211.5" y1="651.5" x2="211.5" y2="653.0" stroke="#555" stroke-width="0.7"/>
<text class="tk" transform="translate(211,657.7) scale(1.0,1)" text-anchor="middle" font-size="6.0">HD</text>
<line x1="221.5" y1="651.5" x2="221.5" y2="653.0" stroke="#555" stroke-width="0.7"/>
<text class="tk" transform="translate(222.0,657.7) scale(1.0,1)" text-anchor="middle" font-size="6.0">1</text>
<line x1="227.5" y1="651.5" x2="227.5" y2="653.0" stroke="#555" stroke-width="0.7"/>
<text class="tk" transform="translate(227,657.7) scale(1.0,1)" text-anchor="middle" font-size="6.0">2</text>
<line x1="232.5" y1="651.5" x2="232.5" y2="653.0" stroke="#555" stroke-width="0.7"/>
<text class="tk" transform="translate(232.5,657.7) scale(1.0,1)" text-anchor="middle" font-size="6.0">3</text>
<line x1="248.5" y1="651.5" x2="248.5" y2="653.0" stroke="#555" stroke-width="0.7"/>
<text class="tk" transform="translate(248.8,657.7) scale(1.0,1)" text-anchor="middle" font-size="6.0">6</text>
<line x1="264.5" y1="651.5" x2="264.5" y2="653.0" stroke="#555" stroke-width="0.7"/>
<text class="tk" transform="translate(264.5,657.7) scale(1.0,1)" text-anchor="middle" font-size="6.0">9</text>
<line x1="281.5" y1="651.5" x2="281.5" y2="653.0" stroke="#555" stroke-width="0.7"/>
<text class="tk" transform="translate(281.5,657.7) scale(1.0,1)" text-anchor="middle" font-size="6.0">12</text>
<line x1="313.5" y1="651.5" x2="313.5" y2="653.0" stroke="#555" stroke-width="0.7"/>
<text class="tk" transform="translate(313.5,657.7) scale(1.0,1)" text-anchor="middle" font-size="6.0">18</text>
<line x1="346.5" y1="651.5" x2="346.5" y2="653.0" stroke="#555" stroke-width="0.7"/>
<text class="tk" transform="translate(346.5,657.7) scale(1.0,1)" text-anchor="middle" font-size="6.0">24</text>
<text class="ti" x="350.8" y="509.5" text-anchor="end" font-size="7.4">BCL2 (CM)</text>
<path d="M370,501.8 H518.5 V650.5 H370" fill="none" stroke="#303030" stroke-width="1.25"/>
<line x1="370" y1="501.8" x2="370" y2="650.5" stroke="#505050" stroke-width="1.25"/>
<line x1="368.2" y1="501.8" x2="370" y2="501.8" stroke="#303030" stroke-width="0.9"/>
<text class="tk" transform="translate(368.2,503.8) scale(0.85,1)" text-anchor="end" font-size="5.6">100</text>
<line x1="368.2" y1="531.8" x2="370" y2="531.8" stroke="#303030" stroke-width="0.9"/>
<text class="tk" transform="translate(368.2,533.8) scale(0.85,1)" text-anchor="end" font-size="5.6">80</text>
<line x1="368.2" y1="561.6" x2="370" y2="561.6" stroke="#303030" stroke-width="0.9"/>
<text class="tk" transform="translate(368.2,563.6) scale(0.85,1)" text-anchor="end" font-size="5.6">60</text>
<line x1="368.2" y1="591.4" x2="370" y2="591.4" stroke="#303030" stroke-width="0.9"/>
<text class="tk" transform="translate(368.2,593.4) scale(0.85,1)" text-anchor="end" font-size="5.6">40</text>
<line x1="368.2" y1="621.5" x2="370" y2="621.5" stroke="#303030" stroke-width="0.9"/>
<text class="tk" transform="translate(368.2,623.5) scale(0.85,1)" text-anchor="end" font-size="5.6">20</text>
<line x1="368.2" y1="650.5" x2="370" y2="650.5" stroke="#303030" stroke-width="0.9"/>
<text class="tk" transform="translate(368.2,652.5) scale(0.85,1)" text-anchor="end" font-size="5.6">0</text>
<line x1="378" y1="602.5" x2="513.8" y2="602.5" stroke="#333" stroke-width="1.2"/>
<path d="M388.5,560.0 V596.8 M385.3,560.0 h6.4 M385.3,596.8 h6.4" stroke="#6a6a6a" stroke-width="1.0" fill="none"/>
<path d="M394.8,571.0 V596.8 M391.6,571.0 h6.4 M391.6,596.8 h6.4" stroke="#6a6a6a" stroke-width="1.0" fill="none"/>
<path d="M400.0,578.0 V606.0 M396.8,578.0 h6.4 M396.8,606.0 h6.4" stroke="#6a6a6a" stroke-width="1.0" fill="none"/>
<path d="M416.3,580.5 V598.8 M413.1,580.5 h6.4 M413.1,598.8 h6.4" stroke="#6a6a6a" stroke-width="1.0" fill="none"/>
<path d="M432.5,579.8 V600.5 M429.3,579.8 h6.4 M429.3,600.5 h6.4" stroke="#6a6a6a" stroke-width="1.0" fill="none"/>
<path d="M448.8,579.5 V601.0 M445.6,579.5 h6.4 M445.6,601.0 h6.4" stroke="#6a6a6a" stroke-width="1.0" fill="none"/>
<path d="M481.3,568.8 V596.8 M478.1,568.8 h6.4 M478.1,596.8 h6.4" stroke="#6a6a6a" stroke-width="1.0" fill="none"/>
<path d="M513.8,578.8 V606.3 M510.59999999999997,578.8 h6.4 M510.59999999999997,606.3 h6.4" stroke="#6a6a6a" stroke-width="1.0" fill="none"/>
<path d="M378.0,596.0 V610.5 M374.8,596.0 h6.4 M374.8,610.5 h6.4" stroke="#222" stroke-width="1.0" fill="none"/>
<path d="M388.5,577.3 L394.8,583.8 L400.0,593.0 L416.3,591.0 L432.5,590.5 L448.8,590.0 L481.3,587.5 L513.8,590.0" stroke="#333" stroke-width="2.0" fill="none" stroke-linejoin="round"/>
<path d="M388.5,574.0 L391.8,577.3 L388.5,580.5999999999999 L385.2,577.3 Z" fill="#555"/>
<path d="M394.8,580.5 L398.1,583.8 L394.8,587.0999999999999 L391.5,583.8 Z" fill="#555"/>
<path d="M400.0,589.7 L403.3,593.0 L400.0,596.3 L396.7,593.0 Z" fill="#555"/>
<path d="M416.3,587.7 L419.6,591.0 L416.3,594.3 L413.0,591.0 Z" fill="#555"/>
<path d="M432.5,587.2 L435.8,590.5 L432.5,593.8 L429.2,590.5 Z" fill="#555"/>
<path d="M448.8,586.7 L452.1,590.0 L448.8,593.3 L445.5,590.0 Z" fill="#555"/>
<path d="M481.3,584.2 L484.6,587.5 L481.3,590.8 L478.0,587.5 Z" fill="#555"/>
<path d="M513.8,586.7 L517.0999999999999,590.0 L513.8,593.3 L510.49999999999994,590.0 Z" fill="#555"/>
<path d="M378.0,599.9 L381.4,603.3 L378.0,606.6999999999999 L374.6,603.3 Z" fill="#000"/>
<line x1="378.5" y1="650.5" x2="378.5" y2="652.0" stroke="#555" stroke-width="0.7"/>
<text class="tk" transform="translate(378.0,657.7) scale(1.0,1)" text-anchor="middle" font-size="6.0">HD</text>
<line x1="388.5" y1="650.5" x2="388.5" y2="652.0" stroke="#555" stroke-width="0.7"/>
<text class="tk" transform="translate(389.0,657.7) scale(1.0,1)" text-anchor="middle" font-size="6.0">1</text>
<line x1="394.5" y1="650.5" x2="394.5" y2="652.0" stroke="#555" stroke-width="0.7"/>
<text class="tk" transform="translate(394.8,657.7) scale(1.0,1)" text-anchor="middle" font-size="6.0">2</text>
<line x1="400.5" y1="650.5" x2="400.5" y2="652.0" stroke="#555" stroke-width="0.7"/>
<text class="tk" transform="translate(400.0,657.7) scale(1.0,1)" text-anchor="middle" font-size="6.0">3</text>
<line x1="416.5" y1="650.5" x2="416.5" y2="652.0" stroke="#555" stroke-width="0.7"/>
<text class="tk" transform="translate(416.3,657.7) scale(1.0,1)" text-anchor="middle" font-size="6.0">6</text>
<line x1="432.5" y1="650.5" x2="432.5" y2="652.0" stroke="#555" stroke-width="0.7"/>
<text class="tk" transform="translate(432.5,657.7) scale(1.0,1)" text-anchor="middle" font-size="6.0">9</text>
<line x1="448.5" y1="650.5" x2="448.5" y2="652.0" stroke="#555" stroke-width="0.7"/>
<text class="tk" transform="translate(448.8,657.7) scale(1.0,1)" text-anchor="middle" font-size="6.0">12</text>
<line x1="481.5" y1="650.5" x2="481.5" y2="652.0" stroke="#555" stroke-width="0.7"/>
<text class="tk" transform="translate(481.3,657.7) scale(1.0,1)" text-anchor="middle" font-size="6.0">18</text>
<line x1="513.5" y1="650.5" x2="513.5" y2="652.0" stroke="#555" stroke-width="0.7"/>
<text class="tk" transform="translate(513.8,657.7) scale(1.0,1)" text-anchor="middle" font-size="6.0">24</text>
<text class="ti" x="518" y="509.5" text-anchor="end" font-size="7.4">BCL2 (EM)</text>
<text class="hd" x="78.2" y="8.8" font-size="12" style="stroke-width:0.6">A</text>
<text class="hd" x="91.3" y="8.4" font-size="7.4" letter-spacing="-0.2">NAIVE</text>
<text class="hd" x="338.8" y="170.1" font-size="12" style="stroke-width:0.5">B</text>
<text class="hd" x="351.6" y="169.9" font-size="7.6">MEMORY</text>
<text class="hd" x="334" y="82.9" font-size="11.4">CD4 Treg</text>
<g stroke="#000" stroke-width="1.7">
<line x1="8.8" y1="14" x2="8.8" y2="170.5"/>
<line x1="8.8" y1="186.7" x2="8.8" y2="326.5"/>
<line x1="8.8" y1="340.5" x2="8.8" y2="471.6"/>
<line x1="8.8" y1="532" x2="8.8" y2="651"/>
</g>
<text class="hd" transform="translate(12.2,178.2) rotate(-90)" text-anchor="middle" font-size="10.5" style="stroke-width:0.6">%</text>
<text transform="translate(11.2,529.3) rotate(-90)" font-size="11" style="stroke:#000;stroke-width:0.3"><tspan font-weight="bold">MFI</tspan><tspan font-size="10.4"> ( X10</tspan><tspan font-size="6.8" dy="-4.3">3</tspan><tspan font-size="10.4" dy="4.3">)</tspan></text>
<line x1="26" y1="673" x2="197" y2="673" stroke="#000" stroke-width="1.6"/>
<line x1="334" y1="673" x2="520" y2="673" stroke="#000" stroke-width="1.6"/>
<text class="hd" x="206.2" y="677.6" font-size="10.6">Months after allo-HSCT</text>
</svg></body></html>
